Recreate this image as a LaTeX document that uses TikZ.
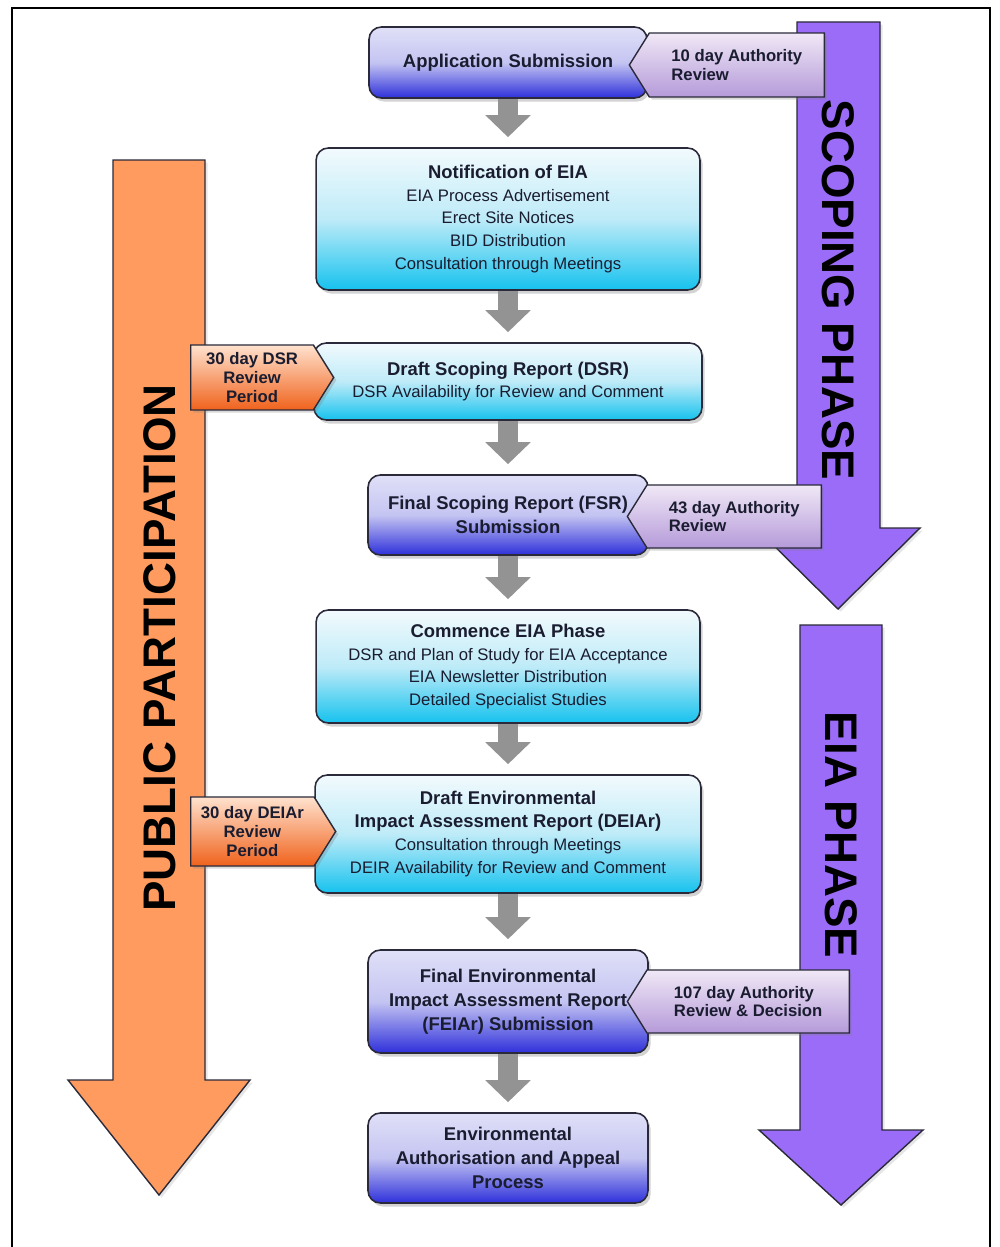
\documentclass[tikz,border=0pt]{standalone}
\usepackage{fontspec}
\setmainfont{Liberation Sans}
\usepackage{xcolor}
\usetikzlibrary{arrows.meta,positioning,shapes.symbols,shadows}
\definecolor{bluetop}{HTML}{E0E0F8}
\definecolor{bluemid}{HTML}{C4C4F2}
\definecolor{bluebot}{HTML}{2E30DA}
\definecolor{cyantop}{HTML}{F2FAFD}
\definecolor{cyanmid}{HTML}{BEEBF8}
\definecolor{cyanbot}{HTML}{16C2EE}
\definecolor{tagtop}{HTML}{F0E8F6}
\definecolor{tagbot}{HTML}{B59AD9}
\definecolor{otagtop}{HTML}{FFE2CE}
\definecolor{otagbot}{HTML}{F0621C}
\definecolor{ppfill}{HTML}{FF9B5E}
\definecolor{phfill}{HTML}{9B6CF7}
\definecolor{flowgray}{HTML}{939393}
\definecolor{boxline}{HTML}{2A2A3A}
\definecolor{ink}{HTML}{1A1C30}
\newcommand{\ttl}[1]{{\bfseries\fontsize{10.5}{13}\selectfont #1}}
\tikzset{
  stepbox/.style={draw=boxline, line width=0.9pt, rounded corners=7pt, align=center, inner sep=3pt, text=ink,
    drop shadow={shadow xshift=1.5pt, shadow yshift=-2pt, opacity=0.35}},
  bluebox/.style={stepbox, top color=bluetop, bottom color=bluebot, middle color=bluemid,
    font=\bfseries\fontsize{10.5}{13.5}\selectfont},
  cyanbox/.style={stepbox, top color=cyantop, bottom color=cyanbot, middle color=cyanmid,
    font=\fontsize{9.5}{13}\selectfont},
  authtag/.style={shape=signal, signal to=west, signal pointer angle=116, draw=boxline, line width=0.8pt,
    top color=tagtop, bottom color=tagbot, align=left, text=ink, anchor=east,
    font=\bfseries\fontsize{9.5}{10.5}\selectfont,
    drop shadow={shadow xshift=1.5pt, shadow yshift=-1.5pt, opacity=0.3}},
  pptag/.style={shape=signal, signal to=east, signal pointer angle=116, draw=boxline, line width=0.8pt,
    top color=otagtop, bottom color=otagbot, align=center, text=ink, anchor=west,
    font=\bfseries\fontsize{9.5}{10.8}\selectfont,
    drop shadow={shadow xshift=1.5pt, shadow yshift=-1.5pt, opacity=0.3}},
  bigarrow/.style={draw=boxline, line width=0.8pt, fill=#1, line join=miter,
    drop shadow={shadow xshift=1.5pt, shadow yshift=-1.5pt, opacity=0.2}},
  bigtext/.style={font=\bfseries\fontsize{26}{28}\selectfont, text=black},
  flow/.style={draw=flowgray, line width=0.4cm, -{Triangle[length=4.4mm, width=8.8mm]}, shorten >=0.2cm},
  frame/.style={draw=black, line width=0.8pt},
}

\begin{document}
\begin{tikzpicture}[x=0.02cm, y=-0.02cm]
  \useasboundingbox (0,0) rectangle (1000,1247);
  \draw[frame] (12,1247) -- (12,8) -- (990,8) -- (990,1247);

  \draw[bigarrow=ppfill] (113,160) -- (205,160) -- (205,1080) -- (250,1080) -- (159,1195) -- (68,1080) -- (113,1080) -- cycle;
  \draw[bigarrow=phfill] (797,22) -- (880,22) -- (880,528) -- (920,528) -- (838,609) -- (756,528) -- (797,528) -- cycle;
  \draw[bigarrow=phfill] (800,625) -- (882,625) -- (882,1130) -- (923,1130) -- (841,1205) -- (759,1130) -- (800,1130) -- cycle;
  \node[bigtext, rotate=90] (pptext) at (160,648) {PUBLIC PARTICIPATION};
  \node[bigtext, rotate=-90] (sptext) at (838,290) {SCOPING PHASE};
  \node[bigtext, rotate=-90] (eptext) at (841,835) {EIA PHASE};

  \node[bluebox, minimum width=5.56cm, minimum height=1.42cm] (app) at (508,62.5) {Application Submission};
  \node[cyanbox, minimum width=7.68cm, minimum height=2.84cm] (notif) at (508,219) {\ttl{Notification of EIA}\\EIA Process Advertisement\\Erect Site Notices\\BID Distribution\\Consultation through Meetings};
  \node[cyanbox, minimum width=7.76cm, minimum height=1.54cm] (dsr) at (508,381.5) {\ttl{Draft Scoping Report (DSR)}\\DSR Availability for Review and Comment};
  \node[bluebox, minimum width=5.6cm, minimum height=1.6cm] (fsr) at (508,515) {Final Scoping Report (FSR)\\Submission};
  \node[cyanbox, minimum width=7.68cm, minimum height=2.26cm] (eia) at (508,666.5) {\ttl{Commence EIA Phase}\\DSR and Plan of Study for EIA Acceptance\\EIA Newsletter Distribution\\Detailed Specialist Studies};
  \node[cyanbox, minimum width=7.72cm, minimum height=2.36cm] (deiar) at (508,834) {\ttl{Draft Environmental}\\\ttl{Impact Assessment Report (DEIAr)}\\Consultation through Meetings\\DEIR Availability for Review and Comment};
  \node[bluebox, minimum width=5.6cm, minimum height=2.06cm] (feiar) at (508,1001.5) {Final Environmental\\Impact Assessment Report\\(FEIAr) Submission};
  \node[bluebox, minimum width=5.6cm, minimum height=1.8cm] (auth) at (508,1158) {Environmental\\Authorisation and Appeal\\Process};

  \foreach \a/\b in {app/notif, notif/dsr, dsr/fsr, fsr/eia, eia/deiar, deiar/feiar, feiar/auth}
    \draw[flow] (\a) -- (\b);

  \node[authtag, minimum width=3.9cm, minimum height=1.28cm] (t10) at (825,65) {10 day Authority\\Review};
  \node[authtag, minimum width=3.88cm, minimum height=1.26cm] (t43) at (822,516.5) {43 day Authority\\Review};
  \node[authtag, minimum width=4.44cm, minimum height=1.26cm] (t107) at (850,1001.5) {107 day Authority\\Review \& Decision};
  \node[pptag, minimum width=2.86cm, minimum height=1.3cm] (tdsr) at (190,377.5) {30 day DSR\\Review\\Period};
  \node[pptag, minimum width=2.9cm, minimum height=1.38cm] (tdeiar) at (190,831.5) {30 day DEIAr\\Review\\Period};
\end{tikzpicture}
\end{document}
